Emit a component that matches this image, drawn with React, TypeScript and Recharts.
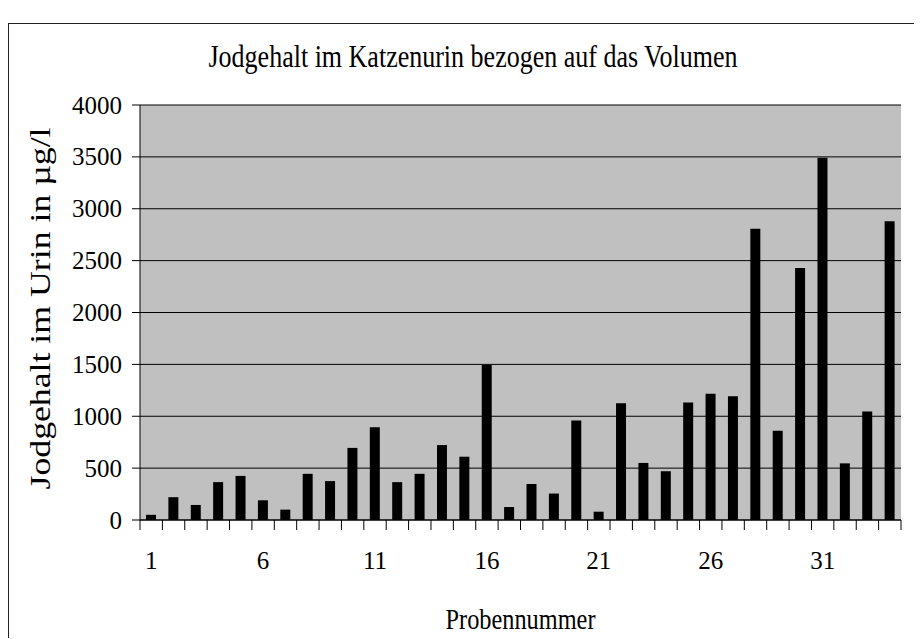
import React from 'react';
import { BarChart, Bar, XAxis, YAxis, CartesianGrid } from 'recharts';

const sampleNumbers = [
  '1', '2', '3', '4', '5', '6', '7', '8', '9', '10', '11', '12', '13', '14', '15', '16', '17',
  '18', '19', '20', '21', '22', '23', '24', '25', '26', '27', '28', '29', '30', '31', '32', '33', '34',
];
const iodineValues = [
  50, 220, 145, 365, 425, 190, 100, 445, 375, 695, 895, 365, 445, 722, 610, 1495, 125,
  347, 255, 958, 80, 1125, 550, 470, 1132, 1218, 1193, 2808, 860, 2430, 3492, 546, 1045, 2880,
];
const yTicks = [0, 500, 1000, 1500, 2000, 2500, 3000, 3500, 4000];
const labelEvery = 5;

const titleText = 'Jodgehalt im Katzenurin bezogen auf das Volumen';
const yTitle = 'Jodgehalt im Urin in µg/l';
const xTitle = 'Probennummer';

const data = sampleNumbers.map((n, i) => ({ n, v: iodineValues[i] }));

const FONT = "Liberation Serif";

const XTick = (props: any) => {
  const { x, y, payload, index } = props;
  const half = payload?.offset ?? 0;
  const last = index === sampleNumbers.length - 1;
  return (
    <g>
      <line x1={x - half} x2={x - half} y1={y - 10} y2={y} stroke="#000" strokeWidth={1} />
      {last && <line x1={x + half} x2={x + half} y1={y - 10} y2={y} stroke="#000" strokeWidth={1} />}
      {index % labelEvery === 0 && (
        <text x={x} y={y + 39} textAnchor="middle" fontFamily={FONT} fontSize={25} fill="#000">
          {payload.value}
        </text>
      )}
    </g>
  );
};

const YTick = (props: any) => {
  const { x, y, payload } = props;
  return (
    <text x={x} y={y} textAnchor="end" dominantBaseline="central" fontFamily={FONT} fontSize={25} fill="#000">
      {payload.value}
    </text>
  );
};

const YTitle = (props: any) => {
  const vb = props.viewBox;
  const cx = 30;
  const cy = vb.y + vb.height / 2 - 4;
  return (
    <text
      x={cx}
      y={cy}
      transform={`rotate(-90, ${cx}, ${cy})`}
      textAnchor="middle"
      dominantBaseline="central"
      fontFamily={FONT}
      fontSize={30}
      textLength={362}
      lengthAdjust="spacingAndGlyphs"
      fill="#000"
    >
      {yTitle}
    </text>
  );
};

const XTitle = (props: any) => {
  const vb = props.viewBox;
  return (
    <text
      x={vb.x + vb.width / 2}
      y={vb.y + 109}
      textAnchor="middle"
      fontFamily={FONT}
      fontSize={30}
      textLength={150}
      lengthAdjust="spacingAndGlyphs"
      fill="#000"
    >
      {xTitle}
    </text>
  );
};

export default function App() {
  return (
    <div style={{ paddingTop: 15 }}>
      <div
        style={{
          width: 905,
          height: 614,
          borderTop: '1px solid #222',
          borderLeft: '1px solid #222',
          borderRight: '1px solid #222',
          background: '#fff',
        }}
      >
        <BarChart
          width={905}
          height={614}
          data={data}
          margin={{ top: 81, right: 13, bottom: 58, left: 0 }}
          barCategoryGap={0}
        >
          <text
            x={464}
            y={43}
            textAnchor="middle"
            fontFamily={FONT}
            fontSize={31}
            textLength={529}
            lengthAdjust="spacingAndGlyphs"
            fill="#000"
          >
            {titleText}
          </text>
          <CartesianGrid vertical={false} stroke="#000" fill="#c0c0c0" fillOpacity={1} />
          <XAxis
            dataKey="n"
            interval={0}
            height={60}
            axisLine={{ stroke: '#000' }}
            tickLine={false}
            tickSize={10}
            tickMargin={0}
            tick={<XTick />}
            label={<XTitle />}
          />
          <YAxis
            width={131}
            domain={[0, 4000]}
            ticks={yTicks}
            interval={0}
            axisLine={{ stroke: '#000' }}
            tickLine={{ stroke: '#000' }}
            tickSize={8}
            tickMargin={10}
            tick={<YTick />}
            label={<YTitle />}
          />
          <YAxis
            yAxisId="right"
            orientation="right"
            width={0}
            domain={[0, 4000]}
            tick={false}
            tickLine={false}
            axisLine={{ stroke: '#808080' }}
          />
          <Bar dataKey="v" fill="#000" barSize={10} isAnimationActive={false} />
        </BarChart>
      </div>
    </div>
  );
}
